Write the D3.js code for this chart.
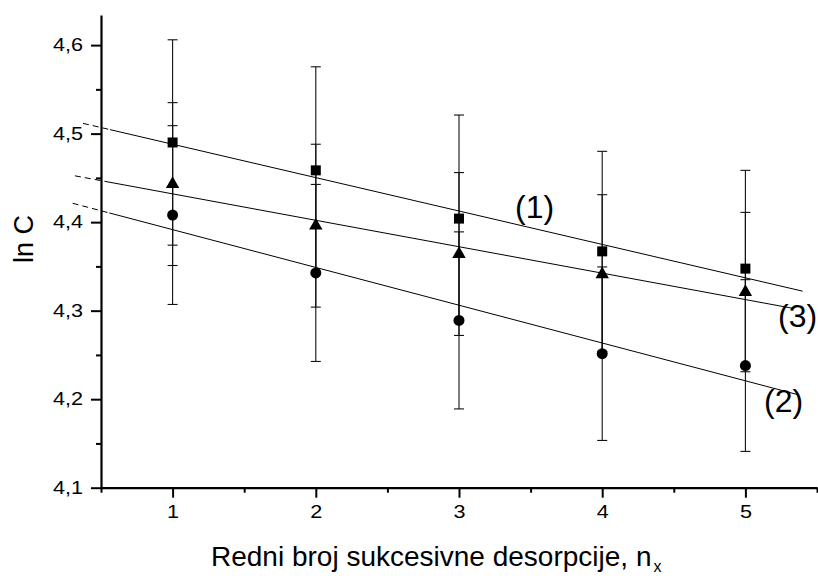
<!DOCTYPE html>
<html>
<head>
<meta charset="utf-8">
<script src="https://cdn.jsdelivr.net/npm/d3@7"></script>
<style>
  html, body { margin: 0; padding: 0; background: #fff; }
  svg { display: block; font-family: Arial, "Liberation Sans", sans-serif; }
</style>
</head>
<body>
<svg id="chart" width="818" height="578"></svg>
<script>
// ---- data ----
const nx = [1, 2, 3, 4, 5];
const series1 = [4.490, 4.4585, 4.404, 4.367, 4.3475];   // squares
const series2 = [4.408, 4.3426, 4.289, 4.2514, 4.238];   // circles
const series3 = [4.443, 4.396, 4.364, 4.341, 4.321];     // triangles
const err1 = [0.116, 0.117, 0.117, 0.113, 0.111];
const err2 = [0.101, 0.100, 0.100, 0.098, 0.097];
const err3 = [0.092, 0.092, 0.092, 0.090, 0.090];
// fitted lines: [dashed start, solid start, solid end]
const fit1 = [[0.374, 4.5116], [0.563, 4.5045], [5.40, 4.322]];
const fit2 = [[0.302, 4.4213], [0.558, 4.4104], [5.369, 4.205]];
const fit3 = [[0.318, 4.4523], [0.563, 4.445], [5.332, 4.3026]];
const lineLabels = ["(1)", "(2)", "(3)"];
const labelPos = [[3.391, 4.4047], [5.130, 4.185], [5.228, 4.2816]];
const yTicks = [4.1, 4.2, 4.3, 4.4, 4.5, 4.6];
const yMinor = [4.15, 4.25, 4.35, 4.45, 4.55];
const xTicks = [1, 2, 3, 4, 5];
const xMinor = [0.5, 1.5, 2.5, 3.5, 4.5, 5.5];
const xTitle = "Redni broj sukcesivne desorpcije, n";
const xTitleSub = "x";
const yTitle = "ln C";

// ---- scales ----
const svg = d3.select("#chart");
const x = d3.scaleLinear().domain([0.5, 5.5]).range([101, 817]);
const y = d3.scaleLinear().domain([4.1, 4.634]).range([487.7, 15]);
const comma = d => d3.format(".1f")(d).replace(".", ",");

svg.append("rect").attr("width", 818).attr("height", 578).attr("fill", "#fff");

// ---- error bars ----
const groups = [
  {vals: series1, err: err1},
  {vals: series2, err: err2},
  {vals: series3, err: err3}
];
const eb = svg.append("g").attr("stroke", "#111").attr("stroke-width", 1.1).attr("fill", "none");
groups.forEach(g => {
  nx.forEach((xv, i) => {
    const cx = x(xv), top = y(g.vals[i] + g.err[i]), bot = y(g.vals[i] - g.err[i]);
    eb.append("line").attr("x1", cx).attr("x2", cx).attr("y1", top).attr("y2", bot);
    eb.append("line").attr("x1", cx - 5).attr("x2", cx + 5).attr("y1", top).attr("y2", top);
    eb.append("line").attr("x1", cx - 5).attr("x2", cx + 5).attr("y1", bot).attr("y2", bot);
  });
});

// ---- fit lines ----
const lineGen = d3.line().x(d => x(d[0])).y(d => y(d[1]));
[fit1, fit2, fit3].forEach(f => {
  svg.append("path").attr("d", lineGen([f[0], f[1]]))
    .attr("stroke", "#000").attr("stroke-width", 1).attr("fill", "none")
    .attr("stroke-dasharray", "6,4");
  svg.append("path").attr("d", lineGen([f[1], f[2]]))
    .attr("stroke", "#000").attr("stroke-width", 1).attr("fill", "none");
});

// ---- markers ----
const symbols = [
  d3.symbol().type(d3.symbolSquare).size(100),
  d3.symbol().type(d3.symbolCircle).size(95),
  d3.symbol().type(d3.symbolTriangle).size(78)
];
[series1, series2, series3].forEach((s, k) => {
  svg.append("g").selectAll("path").data(s).join("path")
    .attr("d", symbols[k])
    .attr("transform", (d, i) => `translate(${x(nx[i])},${y(d)})`)
    .attr("fill", "#000");
});

// ---- line labels ----
lineLabels.forEach((t, i) => {
  svg.append("text").attr("x", x(labelPos[i][0])).attr("y", y(labelPos[i][1]))
    .attr("font-size", 32).attr("fill", "#000").text(t);
});

// ---- axes ----
const yAxis = svg.append("g").attr("transform", "translate(101,0)")
  .call(d3.axisLeft(y).tickValues(yTicks).tickSize(10).tickSizeOuter(0).tickFormat(comma));
const yAxisMinor = svg.append("g").attr("transform", "translate(101,0)")
  .call(d3.axisLeft(y).tickValues(yMinor).tickSize(5).tickFormat(""));
yAxisMinor.select(".domain").remove();

const xAxis = svg.append("g").attr("transform", "translate(0,487.7)")
  .call(d3.axisBottom(x).tickValues(xTicks).tickSize(10).tickSizeOuter(0).tickFormat(d3.format("d")));
const xAxisMinor = svg.append("g").attr("transform", "translate(0,487.7)")
  .call(d3.axisBottom(x).tickValues(xMinor).tickSize(5).tickFormat(""));
xAxisMinor.select(".domain").remove();

[yAxis, yAxisMinor, xAxis, xAxisMinor].forEach(a => {
  a.selectAll(".domain").attr("stroke", "#000").attr("stroke-width", 2.2);
  a.selectAll(".tick line").attr("stroke", "#000").attr("stroke-width", 2);
});
yAxis.selectAll(".tick text")
  .attr("font-size", 18).attr("font-family", "Arial, 'Liberation Sans', sans-serif")
  .attr("fill", "#000").attr("x", -15).attr("transform", "scale(1.2,1)");
xAxis.selectAll(".tick text")
  .attr("font-size", 18).attr("font-family", "Arial, 'Liberation Sans', sans-serif")
  .attr("fill", "#000").attr("y", 18).attr("transform", "scale(1.2,1)");

// ---- titles ----
const xt = svg.append("text").attr("x", 211).attr("y", 566)
  .attr("font-size", 28).attr("fill", "#000").text(xTitle);
xt.append("tspan").attr("font-size", 16).attr("dx", 2).attr("dy", 6).text(xTitleSub);

svg.append("text").attr("transform", "translate(33,239) rotate(-90)")
  .attr("text-anchor", "middle").attr("font-size", 27).attr("fill", "#000").text(yTitle);
</script>
</body>
</html>
